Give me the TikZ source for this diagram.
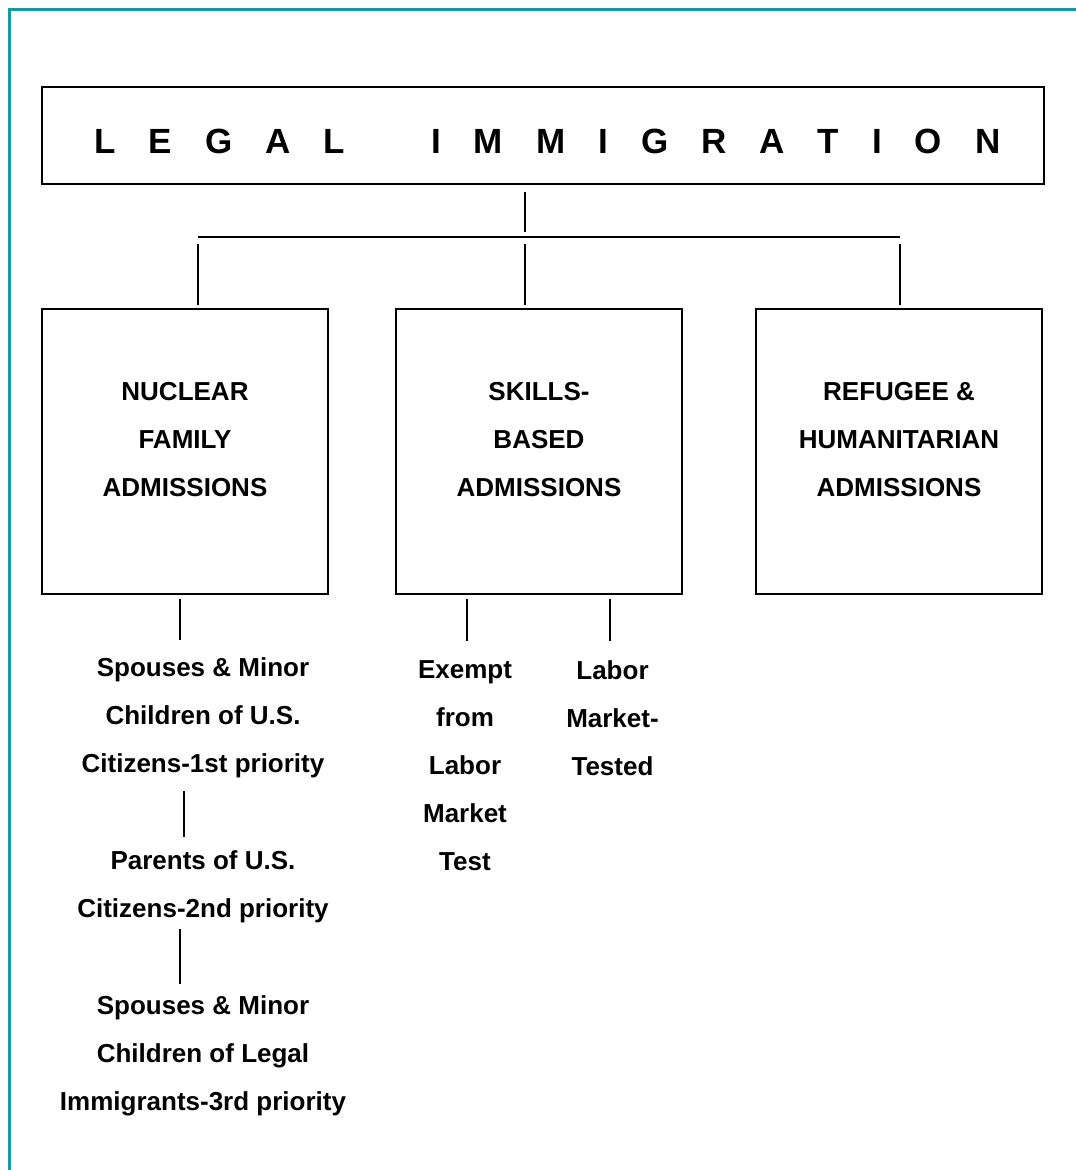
\documentclass[tikz,border=0pt]{standalone}
\usepackage{fontspec}
\setmainfont{Liberation Sans}
\usepackage{tikz}
\usetikzlibrary{positioning}
\definecolor{framecol}{RGB}{24,152,158}
\newcommand\labelfont{\fontsize{26}{48}\selectfont\bfseries}
\newcommand\titlefont{\fontsize{35}{42}\selectfont\bfseries}

\begin{document}
\begin{tikzpicture}[shape=rectangle,
  box/.style={draw, line width=2.5pt, inner sep=0pt, minimum width=286pt,
    minimum height=285pt, text height=187pt, text depth=98pt, align=center,
    font=\labelfont},
  kin/.style={inner sep=0pt, align=center, font=\labelfont},
  link/.style={line width=2pt},
  frame/.style={draw=framecol, line width=3pt}]
\useasboundingbox (0,0) rectangle (1076pt,-1170pt);
\draw[frame] (9.5pt,-1170pt) |- (1076pt,-9.5pt);

\node (title) [draw, line width=2.5pt, inner sep=0pt, minimum width=1002pt,
minimum height=97pt, text height=35pt, text depth=0pt, font=\titlefont]
at (543pt,-135.5pt)
{\spaceskip=33pt\relax\hspace{9pt}L E G A L\hspace{86pt}I M M I G R A T I O N};
\node (nuclear) [box] at (185pt,-451.5pt) {NUCLEAR\\FAMILY\\ADMISSIONS};
\node (skills) [box, node distance=354pt, right of=nuclear]
{SKILLS-\\BASED\\ADMISSIONS};
\node (refugee) [box, node distance=360pt, right of=skills]
{REFUGEE \&\\HUMANITARIAN\\ADMISSIONS};

\node (kinA) [kin, below=62pt of nuclear, xshift=18pt]
{Spouses \& Minor\\Children of U.S.\\Citizens-1st priority};
\node (kinB) [kin, below=73pt of kinA]
{Parents of U.S.\\Citizens-2nd priority};
\node (kinC) [kin, below=72pt of kinB]
{Spouses \& Minor\\Children of Legal\\Immigrants-3rd priority};
\node (exempt) [kin, below=65pt of skills, xshift=-74pt]
{Exempt\\from\\Labor\\Market\\Test};
\node (tested) [kin, below=65pt of skills, xshift=73.5pt]
{Labor\\Market-\\Tested};

% branch bus under the title
\coordinate (busL) at (198pt,-237pt);
\coordinate (hub) at (525pt,-237pt);
\coordinate (busR) at (900pt,-237pt);
\draw[link] (busL) -- (busR);
\draw[link, shorten <=7pt, shorten >=5pt] (title.south -| hub) -- (hub);
\draw[link, shorten <=7pt, shorten >=3pt] (busL) -- (busL |- nuclear.north);
\draw[link, shorten <=7pt, shorten >=3pt] (hub) -- (hub |- skills.north);
\draw[link, shorten <=7pt, shorten >=3pt] (busR) -- (busR |- refugee.north);

% drops to the sub-categories
\coordinate (famdrop) at ([xshift=-5pt]nuclear.south);
\coordinate (kindropA) at ([xshift=-19pt]kinA.south);
\coordinate (kindropB) at ([xshift=-23pt]kinB.south);
\coordinate (exdrop) at ([xshift=-72.5pt]skills.south);
\coordinate (labdrop) at ([xshift=70.5pt]skills.south);
\draw[link, shorten <=4pt, shorten >=17pt] (famdrop) -- (famdrop |- kinA.north);
\draw[link, shorten <=13pt, shorten >=14pt] (kindropA) -- (kindropA |- kinB.north);
\draw[link, shorten <=5pt, shorten >=12pt] (kindropB) -- (kindropB |- kinC.north);
\draw[link, shorten <=4pt, shorten >=19pt] (exdrop) -- (exdrop |- exempt.north);
\draw[link, shorten <=4pt, shorten >=19pt] (labdrop) -- (labdrop |- tested.north);
\end{tikzpicture}
\end{document}
